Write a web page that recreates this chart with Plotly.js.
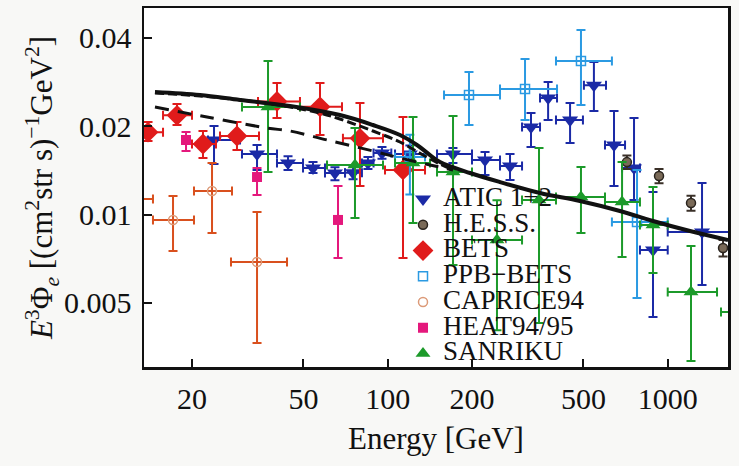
<!DOCTYPE html>
<html>
<head>
<meta charset="utf-8">
<script src="https://cdn.plot.ly/plotly-3.0.1.min.js"></script>
<style>html,body{margin:0;padding:0;background:#f8f8f6;}#chart{width:739px;height:466px;}</style>
</head>
<body>
<div id="chart"></div>
<script>
// ---------------- data ----------------
const xTickVals = [20, 50, 100, 200, 500, 1000];
const xTickText = ['20', '50', '100', '200', '500', '1000'];
const yTickVals = [0.005, 0.01, 0.02, 0.04];
const yTickText = ['0.005', '0.01', '0.02', '0.04'];

// ATIC 1+2
const aticE    = [23.97, 34.14, 44.05, 54.1, 64.8, 75.2, 85.0, 95.4, 120, 171, 222.6, 273.4, 324.9, 374, 448, 545, 643, 758, 886, 1326];
const aticF    = [0.01796, 0.01609, 0.01499, 0.01441, 0.01386, 0.0139, 0.0150, 0.01621, 0.0161, 0.01609, 0.01535, 0.01464, 0.01988, 0.02497, 0.0210, 0.0276, 0.01727, 0.01441, 0.00758, 0.00873];
const aticElo  = [22.81, 30.17, 40.23, 49.84, 59.7, 70.4, 80.9, 89.0, 106.2, 150, 200, 251.8, 301.8, 349.9, 399, 502, 597, 687, 796, 1000];
const aticEhi  = [29.69, 40.23, 49.84, 59.7, 70.4, 80.9, 89.0, 103, 135.9, 200, 251.8, 301.8, 349.9, 402.4, 498, 602, 704, 796, 1000, 1750];
const aticFlo  = [0.01487, 0.01419, 0.0142, 0.01386, 0.0131, 0.0132, 0.0143, 0.0155, 0.0151, 0.01499, 0.01365, 0.01312, 0.01699, 0.0210, 0.01754, 0.02254, 0.01252, 0.01121, 0.00448, 0.00576];
const aticFhi  = [0.02004, 0.01727, 0.0158, 0.0151, 0.0145, 0.0146, 0.0157, 0.0170, 0.0172, 0.01686, 0.01634, 0.01609, 0.02219, 0.0283, 0.0240, 0.03311, 0.02254, 0.02134, 0.01194, 0.01281];

// H.E.S.S.
const hessE   = [715, 931, 1211, 1576];
const hessF   = [0.0151, 0.01354, 0.01095, 0.0077];
const hessFlo = [0.0143, 0.0128, 0.0103, 0.0072];
const hessFhi = [0.0159, 0.0143, 0.0116, 0.0082];

// BETS
const betsE   = [13.93, 17.68, 21.89, 28.95, 40.23, 57.3, 79.6, 113.4];
const betsF   = [0.0191, 0.0218, 0.0174, 0.01853, 0.0243, 0.0233, 0.0182, 0.0142];
const betsElo = [12.9, 15.76, 20.0, 25.18, 34.42, 48.6, 69.2, 97.8];
const betsEhi = [15.76, 20.0, 24.36, 34.7, 48.6, 68.66, 96.2, 135.9];
const betsFlo = [0.0178, 0.0202, 0.01559, 0.0166, 0.02134, 0.01868, 0.01252, 0.00712];
const betsFhi = [0.0207, 0.02383, 0.01927, 0.02068, 0.02808, 0.0281, 0.0240, 0.0215];

// PPB-BETS
const ppbE   = [120, 195.1, 309.3, 490, 777];
const ppbF   = [0.0157, 0.02556, 0.0268, 0.0334, 0.00944];
const ppbElo = [106.2, 158.9, 251.8, 399, 632];
const ppbEhi = [135.9, 251.8, 402.4, 632, 1000];
const ppbFlo = [0.0117, 0.0202, 0.0210, 0.02364, 0.0052];
const ppbFhi = [0.0187, 0.03061, 0.0339, 0.04256, 0.01419];

// CAPRICE94
const capE   = [12.6, 17.11, 23.58, 34.14];
const capF   = [0.0113, 0.00959, 0.01203, 0.0069];
const capElo = [11.0, 14.51, 20.33, 27.56];
const capEhi = [14.51, 20.33, 27.79, 43.69];
const capFlo = [0.0113, 0.00751, 0.00866, 0.00365];
const capFhi = [0.0113, 0.01158, 0.01499, 0.01021];

// HEAT94/95
const heatE   = [19.04, 34.14, 66.45];
const heatF   = [0.01796, 0.01343, 0.00959];
const heatFlo = [0.01647, 0.01167, 0.00712];
const heatFhi = [0.01912, 0.01441, 0.01252];

// SANRIKU
const sanE   = [37.37, 76.4, 123.1, 171.1, 245.6, 347, 490, 687, 886, 1211, 2000];
const sanF   = [0.02327, 0.01476, 0.0150, 0.01397, 0.0082, 0.01121, 0.01148, 0.01104, 0.00922, 0.00545, 0.00466];
const sanElo = [30.17, 60.7, 106.2, 150, 200, 301.8, 399, 597, 796, 1000, 1550];
const sanEhi = [48.6, 96.2, 141.6, 200, 301.8, 399, 597, 796, 1000, 1500, 2500];
const sanFlo = [0.01397, 0.00974, 0.00936, 0.00674, 0.00404, 0.00427, 0.00866, 0.00717, 0.00633, 0.00317, 0.00466];
const sanFhi = [0.03339, 0.01973, 0.0215, 0.02168, 0.0112, 0.01686, 0.01452, 0.0151, 0.01242, 0.00782, 0.00466];

// model curves
const solidE = [14.75, 21.36, 29.69, 44.77, 67.5, 88.6, 110.6, 127.2, 141.6, 153.7, 196.8, 251.8, 349.9, 486.1, 675.3, 886.1, 1201, 1642];
const solidF = [0.02617, 0.02556, 0.02458, 0.02345, 0.02184, 0.0202, 0.01868, 0.01727, 0.01596, 0.0151, 0.01386, 0.01291, 0.01185, 0.01113, 0.01029, 0.00951, 0.00879, 0.00819];
const dash1E = [14.75, 21.36, 32.23, 44.77, 57.3, 67.5, 88.6, 110.6, 133.7, 153.7, 171.1];
const dash1F = [0.02597, 0.02536, 0.02438, 0.02327, 0.02219, 0.02117, 0.01927, 0.01768, 0.01596, 0.01487, 0.01419];
const dash2E = [14.75, 22.62, 37.06, 44.77, 60.7, 88.6, 110.6, 141.6, 171.1];
const dash2F = [0.02327, 0.0215, 0.01973, 0.01927, 0.01796, 0.01647, 0.01559, 0.01476, 0.01419];

// ---------------- helpers ----------------
const up = (hi, v) => hi.map((h, i) => h - v[i]);
const dn = (lo, v) => lo.map((l, i) => v[i] - l);
const FONT = 'Liberation Serif';
const LEG = t => '<span style="font-size:27px;font-family:Liberation Serif">' + t + '</span>';

function errTrace(name, x, y, xlo, xhi, ylo, yhi, color, marker) {
  const t = {
    type: 'scatter', mode: 'markers', name: LEG(name), x: x, y: y,
    marker: marker, cliponaxis: true,
    error_y: {type: 'data', symmetric: false, array: up(yhi, y), arrayminus: dn(ylo, y), color: color, thickness: 2, width: 4.5}
  };
  if (xlo) t.error_x = {type: 'data', symmetric: false, array: up(xhi, x), arrayminus: dn(xlo, x), color: color, thickness: 2, width: 4.5};
  return t;
}

const cATIC = '#1b2aa6', cBETS = '#e01b1b', cPPB = '#2b9ae2', cCAP = '#d9501e', cHEAT = '#e4187c', cSAN = '#1c9a2a', cHESS = '#3a3028';

const traces = [
  errTrace('ATIC 1+2', aticE, aticF, aticElo, aticEhi, aticFlo, aticFhi, cATIC,
    {symbol: 'triangle-down', size: 14, color: cATIC}),
  errTrace('H.E.S.S.', hessE, hessF, null, null, hessFlo, hessFhi, cHESS,
    {symbol: 'circle', size: 9, color: '#7a6a58', line: {color: '#2a241e', width: 1.5}}),
  errTrace('BETS', betsE, betsF, betsElo, betsEhi, betsFlo, betsFhi, cBETS,
    {symbol: 'diamond', size: 16, color: cBETS}),
  errTrace('PPB\u2212BETS', ppbE, ppbF, ppbElo, ppbEhi, ppbFlo, ppbFhi, cPPB,
    {symbol: 'square-open', size: 9, color: cPPB, line: {width: 1.5}}),
  errTrace('CAPRICE94', capE, capF, capElo, capEhi, capFlo, capFhi, cCAP,
    {symbol: 'circle-open', size: 9, color: '#dc9a78', line: {width: 1.5}}),
  errTrace('HEAT94/95', heatE, heatF, null, null, heatFlo, heatFhi, cHEAT,
    {symbol: 'square', size: 10, color: cHEAT}),
  errTrace('SANRIKU', sanE, sanF, sanElo, sanEhi, sanFlo, sanFhi, cSAN,
    {symbol: 'triangle-up', size: 13, color: cSAN}),
  {type: 'scatter', mode: 'lines', x: dash2E, y: dash2F, showlegend: false, hoverinfo: 'skip',
   line: {color: '#111', width: 3, dash: '14px,9px', shape: 'spline'}},
  {type: 'scatter', mode: 'lines', x: dash1E, y: dash1F, showlegend: false, hoverinfo: 'skip',
   line: {color: '#111', width: 3, dash: '9px,4px', shape: 'spline'}},
  {type: 'scatter', mode: 'lines', x: solidE, y: solidF, showlegend: false, hoverinfo: 'skip',
   line: {color: '#111', width: 4, shape: 'spline'}}
];

const layout = {
  width: 739, height: 466,
  margin: {l: 144, r: 11, t: 8, b: 99, pad: 0},
  paper_bgcolor: '#f8f8f6', plot_bgcolor: '#ffffff',
  font: {family: FONT, color: '#111', size: 28},
  showlegend: true,
  legend: {x: 0.4435, y: 0.5176, xanchor: 'left', yanchor: 'top', bgcolor: 'rgba(0,0,0,0)',
           font: {family: FONT, size: 17.5, color: '#111'}, itemwidth: 30, traceorder: 'normal'},
  xaxis: {
    type: 'log', range: [1.1296, 3.2153],
    tickvals: xTickVals, ticktext: xTickText,
    ticks: 'inside', ticklen: 8, tickwidth: 2, tickcolor: '#111',
    showline: true, linecolor: '#111', linewidth: 2.5, mirror: true,
    showgrid: false, zeroline: false, ticklabelstandoff: 3,
    tickfont: {family: FONT, size: 30, color: '#111'},
    title: {text: 'Energy [GeV]', font: {family: FONT, size: 31, color: '#111'}, standoff: 14}
  },
  yaxis: {
    type: 'log', range: [-2.5192, -1.296],
    tickvals: yTickVals, ticktext: yTickText,
    ticks: 'inside', ticklen: 8, tickwidth: 2, tickcolor: '#111',
    showline: true, linecolor: '#111', linewidth: 2.5, mirror: true,
    showgrid: false, zeroline: false, ticklabelstandoff: 4,
    tickfont: {family: FONT, size: 30, color: '#111'},
    title: {text: '<i>E</i><sup>3</sup>\u03a6<sub><i>e</i></sub> [(cm<sup>2</sup>str s)<sup>\u22121</sup>GeV<sup>2</sup>]',
            font: {family: FONT, size: 31, color: '#111'}, standoff: 2}
  }
};

Plotly.newPlot('chart', traces, layout, {staticPlot: true, displayModeBar: false});
</script>
</body>
</html>
